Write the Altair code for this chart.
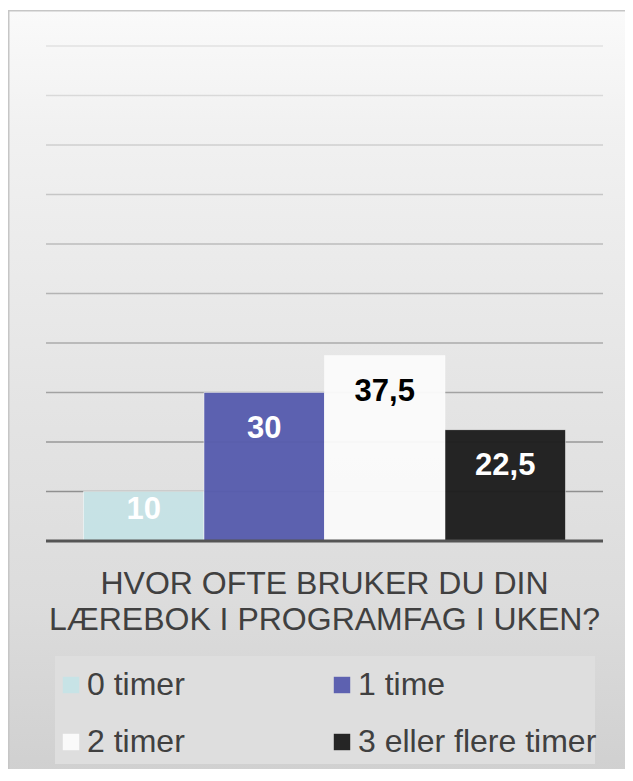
import altair as alt
import pandas as pd

# ---- data ----
categories = ["0 timer", "1 time", "2 timer", "3 eller flere timer"]
values = [10, 30, 37.5, 22.5]
grid_values = [10, 20, 30, 40, 50, 60, 70, 80, 90, 100]
title_lines = ["HVOR OFTE BRUKER DU DIN", "LÆREBOK I PROGRAMFAG I UKEN?"]

# ---- style ----
bar_colors = ["#c6e3e6", "#575cae", "#fbfbfb", "#1d1d1d"]
FONT = "Liberation Sans, Arial, sans-serif"
W, H = 557, 495
PAD = {"left": 38, "top": 38, "right": 22, "bottom": 228}

df = pd.DataFrame({"cat": categories, "value": values})
grid_df = pd.DataFrame({"g": grid_values})
one = pd.DataFrame({"z": [0]})

yscale = alt.Scale(domain=[0, 100], nice=False)
xenc = alt.X("cat:N", sort=categories,
             scale=alt.Scale(paddingInner=0, paddingOuter=0.311), axis=None)

bg = alt.Chart(one).mark_rect(
    fill=alt.LinearGradient(
        gradient="linear",
        stops=[alt.GradientStop(color="#fafafa", offset=0),
               alt.GradientStop(color="#f1f1f1", offset=0.15),
               alt.GradientStop(color="#e4e4e4", offset=0.5),
               alt.GradientStop(color="#dcdcdc", offset=0.75),
               alt.GradientStop(color="#cecece", offset=1)],
        x1=0, x2=0, y1=0, y2=1),
    stroke="#c6c6c6", strokeWidth=1.5,
).encode(x=alt.value(-37.25), x2=alt.value(W + 60),
         y=alt.value(-35.25), y2=alt.value(H + 260))

legend_box = alt.Chart(one).mark_rect(fill="#dedede").encode(
    x=alt.value(9), x2=alt.value(549), y=alt.value(610), y2=alt.value(718))

grid = alt.Chart(grid_df).mark_rule(strokeWidth=1.5).encode(
    y=alt.Y("g:Q", scale=yscale, axis=None),
    x=alt.value(0), x2=alt.value(W),
    stroke=alt.Stroke("g:Q", scale=alt.Scale(domain=[10, 100], range=["#909090", "#e2e2e2"]), legend=None),
)

bars = alt.Chart(df).mark_bar(opacity=0.96, stroke="#ffffff", strokeOpacity=0.5, strokeWidth=1).encode(
    x=xenc,
    y=alt.Y("value:Q", scale=yscale, axis=None),
    fill=alt.Fill("cat:N", sort=categories,
                  scale=alt.Scale(domain=categories, range=bar_colors),
                  legend=alt.Legend(
                      orient="none", legendX=-1, legendY=613, columns=2, direction="horizontal",
                      title=None, symbolType="square", symbolSize=270, symbolStrokeWidth=0,
                      labelFontSize=32, labelFont=FONT, labelColor="#404040",
                      labelOffset=0, labelLimit=400, columnPadding=141, rowPadding=25,
                      padding=10)),
)

baseline = alt.Chart(one).mark_rule(color="#555555", strokeWidth=3).encode(
    y=alt.Y("z:Q", scale=yscale, axis=None), x=alt.value(0), x2=alt.value(W))

labels = alt.Chart(df).transform_calculate(
    label="replace(toString(datum.value), '.', ',')",
    ly="max(datum.value - 7.3, 6.2)",
).mark_text(fontSize=31, fontWeight="bold", font=FONT, baseline="middle", align="center").encode(
    x=xenc,
    y=alt.Y("ly:Q", scale=yscale, axis=None),
    text="label:N",
    color=alt.condition("datum.cat == '2 timer'", alt.value("#000000"), alt.value("#ffffff")),
)

title = alt.Chart(one).mark_text(
    fontSize=32, font=FONT, color="#404040", align="center", baseline="alphabetic", lineHeight=36.5
).encode(x=alt.value(W / 2), y=alt.value(547.5), text=alt.value(title_lines))

chart = alt.layer(bg, legend_box, grid, bars, baseline, labels, title).properties(
    width=W, height=H, padding=PAD, autosize=alt.AutoSizeParams(type="none")
).configure_view(stroke=None).configure(background="white")

chart.save("out.html", embed_options={"renderer": "svg", "actions": False})
